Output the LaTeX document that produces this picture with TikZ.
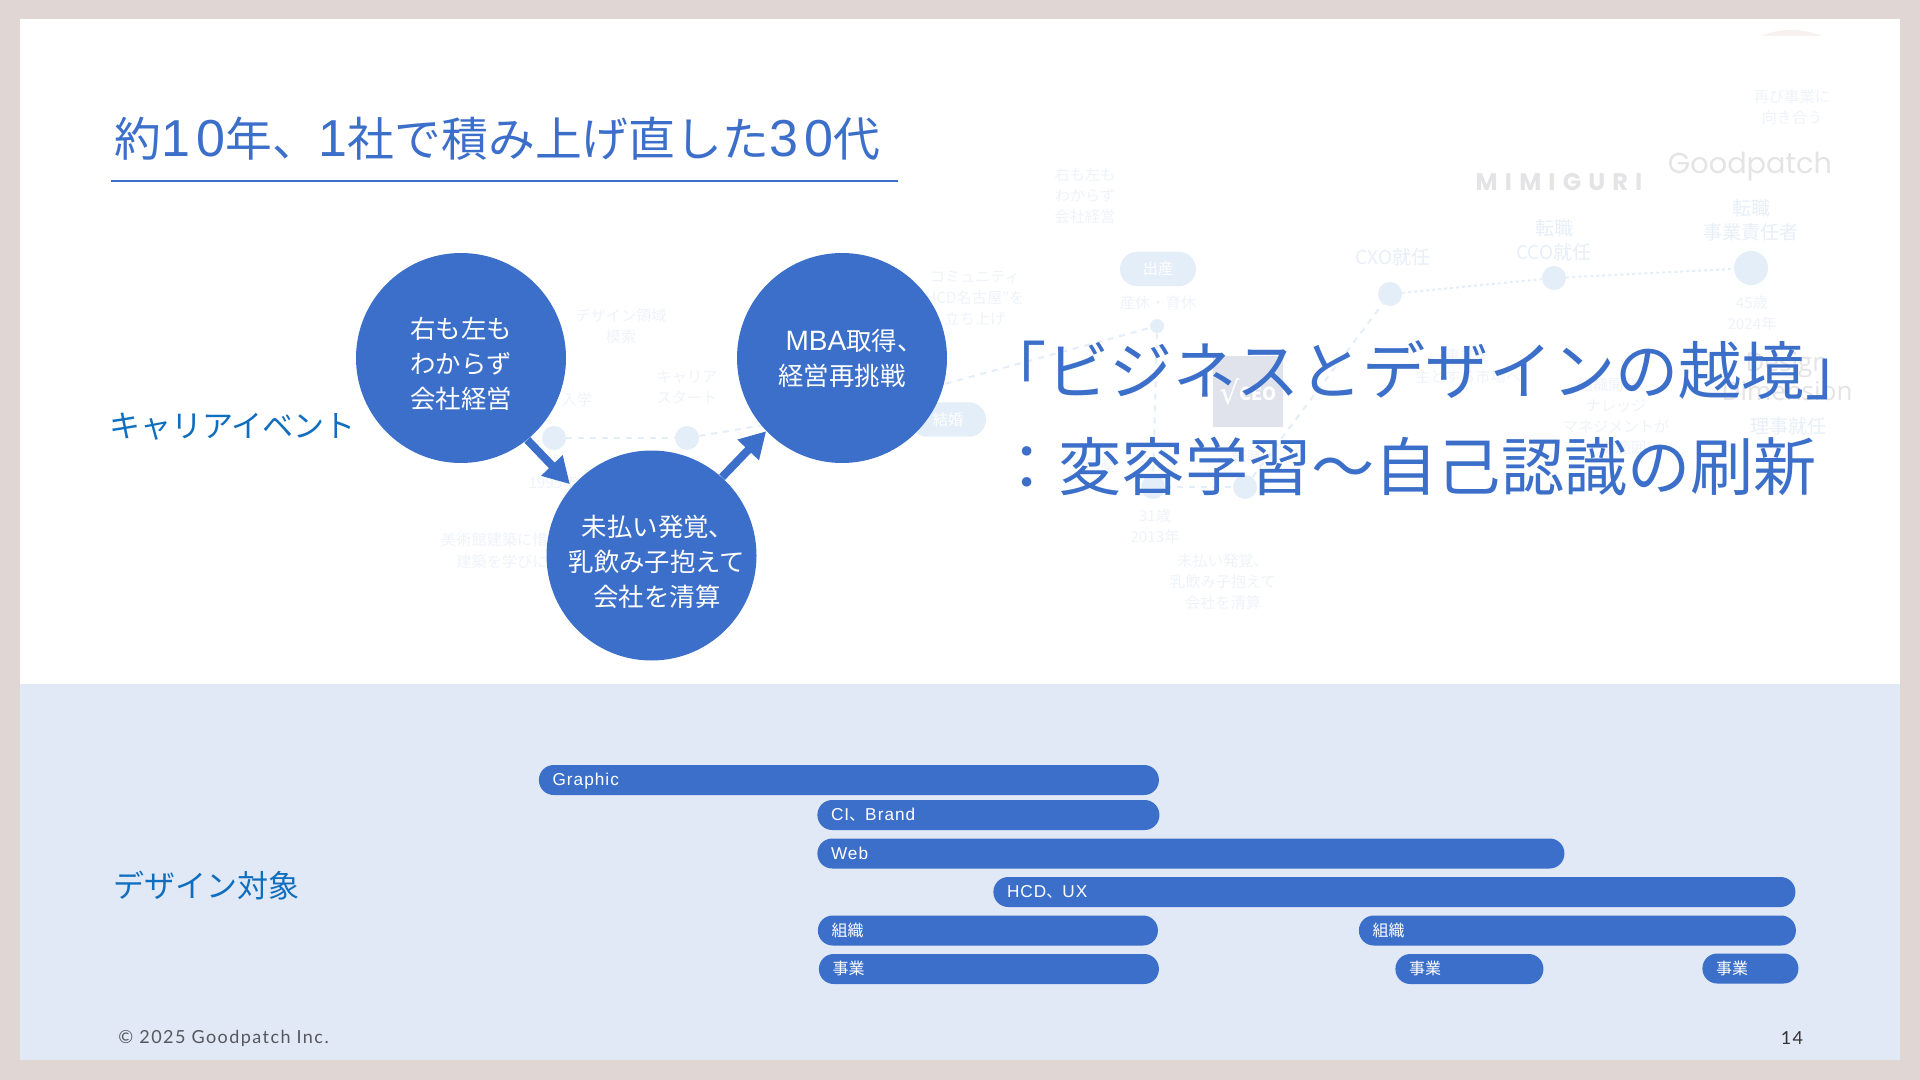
\documentclass[tikz,border=0pt]{standalone}
\usepackage{fontspec}
\usetikzlibrary{arrows.meta}
\setmainfont{Noto Sans CJK JP}
\newfontfamily\capsfont[LetterSpace=30]{Poppins}
\newfontfamily\logofont{Poppins}
\newfontfamily\copyfont[LetterSpace=8]{Lato}
\newfontfamily\lightlatin{Open Sans}
\newfontfamily\symfont{DejaVu Sans}
\newfontfamily\numfont[LetterSpace=12]{Liberation Sans}
\newfontfamily\barfont[LetterSpace=6]{Liberation Sans}
\newcommand{\nm}[1]{{\numfont\fontsize{26pt}{26pt}\selectfont #1}}
\newcommand{\ltn}[1]{{\barfont\fontsize{8.6pt}{10pt}\selectfont #1}}
\definecolor{bluemain}{HTML}{3C6FC9}
\definecolor{labelblue}{HTML}{0F6EBF}
\definecolor{frameclr}{HTML}{E0D6D4}
\definecolor{panelclr}{HTML}{E1E9F6}
\definecolor{dotclr}{HTML}{E4EEF8}
\definecolor{ghostclr}{HTML}{EFF3F9}
\definecolor{ghostmid}{HTML}{E8EFF8}
\definecolor{logoclr}{HTML}{E4E4E6}
\definecolor{ceoclr}{HTML}{E0E3EC}
\definecolor{capclr}{HTML}{F6F1EE}
\tikzset{
  x=0.5pt,y=-0.5pt,
  bubble/.style={circle,fill=bluemain,minimum size=105pt,inner sep=0pt},
  bubtext/.style={text=white,font=\fontsize{12.7pt}{17.5pt}\selectfont,align=center,inner sep=0pt},
  flow/.style={draw=bluemain,line width=4pt,-{Triangle[length=13pt,width=14pt]}},
  bar/.style={fill=bluemain,rounded corners=7.4pt,anchor=west,minimum height=15pt,inner xsep=6.8pt,inner ysep=0pt,
     text width={(#1)*0.5pt-13.6pt},text height=7.2pt,text depth=1.4pt,text=white,align=left,font=\fontsize{8pt}{10pt}\selectfont},
  ghost/.style={text=ghostclr,font=\fontsize{7.6pt}{10.5pt}\selectfont,align=center,inner sep=0pt},
  ghostm/.style={text=ghostmid,font=\fontsize{9.5pt}{12pt}\selectfont,align=center,inner sep=0pt},
  gdot/.style={circle,fill=dotclr,minimum size=#1*0.5pt,inner sep=0pt},
  gpill/.style={fill=dotclr,rounded corners=8.6pt,minimum height=17.2pt,minimum width=38pt,inner sep=0pt,text=white,font=\fontsize{7.6pt}{9pt}\selectfont},
  gline/.style={draw=dotclr,line width=1pt,dash pattern=on 3pt off 3pt},
  biglabel/.style={text=labelblue,font=\fontsize{15.5pt}{18pt}\selectfont,inner sep=0pt,anchor=west},
  bigtext/.style={text=bluemain,font=\fontsize{31.6pt}{36pt}\selectfont,inner sep=0pt,anchor=west},
}
\begin{document}
\begin{tikzpicture}
\useasboundingbox (0,0) rectangle (1920,1080);
\fill[frameclr] (0,0) rectangle (1920,1080);
\fill[white] (20,19) rectangle (1900,684);
\fill[panelclr] (20,684) rectangle (1900,1060);

% faded layer
\begin{scope}
\clip (1700,19) rectangle (1880,36);
\fill[capclr] (1791,108) circle[radius=78];
\end{scope}
\node[ghost] (g01) at (1792,107.5) {再び事業に\\向き合う};
\node[text=logoclr,inner sep=0pt,font=\logofont\fontsize{14.4pt}{16pt}\selectfont] (g02) at (1750,167) {Goodpatch};
\node[text=logoclr,inner sep=0pt,font=\capsfont\bfseries\fontsize{12pt}{13pt}\selectfont] (g03) at (1559,182) {MIMIGURI};
\node[ghostm] (g04) at (1751,220) {転職\\事業責任者};
\node[ghostm] (g05) at (1554,240) {転職\\CCO就任};
\node[ghostm] (g06) at (1393,257) {CXO就任};
\node[ghost] (g07) at (1752,313) {45歳\\2024年};
\node[ghost] (g08) at (1085,196) {右も左も\\わからず\\会社経営};
\node[ghost] (g09) at (975,298) {コミュニティ\\HCD名古屋”を\\立ち上げ};
\node[ghost] (g10) at (621,326) {デザイン領域\\模索};
\node[ghost] (g11) at (687,387.5) {キャリア\\スタート};
\node[ghost] (g12) at (577,400) {入学};
\node[ghost] (g13) at (553,472) {\ 歳\\1995年};
\node[ghost,anchor=east] (g14) at (548,540) {美術館建築に惜};
\node[ghost,anchor=east] (g15) at (548,562) {建築を学びに};
\node[ghost] (g16) at (1158,303) {産休・育休};
\node[ghost] (g17) at (1155,526) {31歳\\2013年};
\node[ghost] (g18) at (1223,582) {未払い発覚、\\乳飲み子抱えて\\会社を清算};
\node[ghost] (g19) at (1468,366) {事業を\\主とする市場へ};
\node[ghost] (g20) at (1616,416) {組織開発、\\ナレッジ\\マネジメントが\\主な範囲};
\node[ghostm] (g21) at (1788,426) {理事就任};
\node[ghost] (g22) at (1100,466) {倒産};
\node[ghost] (g23) at (1247,457) {転職};
\node[text=logoclr,inner sep=0pt,font=\lightlatin\fontsize{13pt}{14.5pt}\selectfont,align=center] (g24) at (1787,377) {Design\\Dimension};
\node[fill=ceoclr,minimum size=35pt,inner sep=0pt,text=white,font=\fontsize{9pt}{10pt}\selectfont] (ceo) at (1248,391.5) {\raisebox{-2pt}{\symfont\fontsize{16pt}{16pt}\selectfont √}\textbf{CEO}};

\node[gpill] (p1) at (948,419.5) {結婚};
\node[gpill] (p2) at (1158,269) {出産};
\node[gdot=24] (d1) at (554,438) {};
\node[gdot=24] (d2) at (687,438) {};
\coordinate (dh) at (842,412);
\node[gdot=14] (d3) at (1157,326) {};
\node[gdot=24] (d4) at (1153,487) {};
\node[gdot=24] (d5) at (1245,487) {};
\node[gdot=24] (d6) at (1390,294) {};
\node[gdot=24] (d7) at (1554,278) {};
\node[gdot=34] (d8) at (1751,268) {};
\draw[gline] (d1) -- (d2);
\draw[gline] (d2) -- (dh) -- (d3);
\draw[gline] (d3) -- (d4);
\draw[gline] (d4) -- (d5);
\draw[gline] (d5) -- (d6);
\draw[gline,dash pattern=on 1.4pt off 1.6pt] (d6) -- (d7);
\draw[gline,dash pattern=on 1.4pt off 1.6pt] (d7) -- (d8);

% title
\node[text=bluemain,inner sep=0pt,anchor=west,font=\fontsize{23.4pt}{26pt}\selectfont] (title) at (114,139) {約\nm{10}年、\nm{1}社で積み上げ直した\nm{30}代};
\coordinate (ruleL) at (111,181);
\coordinate (ruleR) at (898,181);
\draw[bluemain,line width=1pt] (ruleL) -- (ruleR);

% bubbles
\node[bubble] (c1) at (461,358) {};
\node[bubble] (c2) at (651.5,555.5) {};
\node[bubble] (c3) at (842,358) {};
\node[bubtext] (t1) at (461,363.5) {右も左も\\わからず\\会社経営};
\node[bubtext] (t2) at (657,561.5) {\hspace*{1pt}未払い発覚、\\乳飲み子抱えて\\会社を清算};
\node[bubtext] (t3) at (842,358.5) {\hspace*{12pt}{\fontspec{Liberation Sans}\fontsize{14pt}{17.5pt}\selectfont MBA}取得、\\経営再挑戦};
\draw[flow,shorten >=1.5pt] (c1.-51) -- (c2.139);
\draw[flow] (c2.48) -- (c3.224);

\node[biglabel] (l1) at (109,427) {キャリアイベント};
\node[biglabel] (l2) at (113,886) {デザイン対象};
\node[bigtext] (b1) at (983,370) {「ビジネスとデザインの越境」};
\node[bigtext] (b2) at (995,466) {：変容学習～自己認識の刷新};

% bars
\node[bar=620] (b_g) at (538.5,780) {\ltn{Graphic}};
\node[bar=342] (b_c) at (817,815) {\ltn{CI}、\ltn{Brand}};
\node[bar=747] (b_w) at (817,853.5) {\ltn{Web}};
\node[bar=802] (b_h) at (993,892) {\ltn{HCD}、\ltn{UX}};
\node[bar=340] (b_o1) at (817.5,930.5) {組織};
\node[bar=437] (b_o2) at (1358.5,930.5) {組織};
\node[bar=340] (b_b1) at (818.5,969) {事業};
\node[bar=148] (b_b2) at (1395,969) {事業};
\node[bar=96] (b_b3) at (1702,968.5) {事業};

\node[text=black!62!panelclr,inner sep=0pt,anchor=west,font=\copyfont\fontsize{9pt}{10pt}\selectfont] (copy) at (118,1038.5) {© 2025 Goodpatch Inc.};
\node[text=black!80,inner sep=0pt,font=\copyfont\fontsize{9pt}{10pt}\selectfont] (pg) at (1792,1038) {14};
\end{tikzpicture}
\end{document}
